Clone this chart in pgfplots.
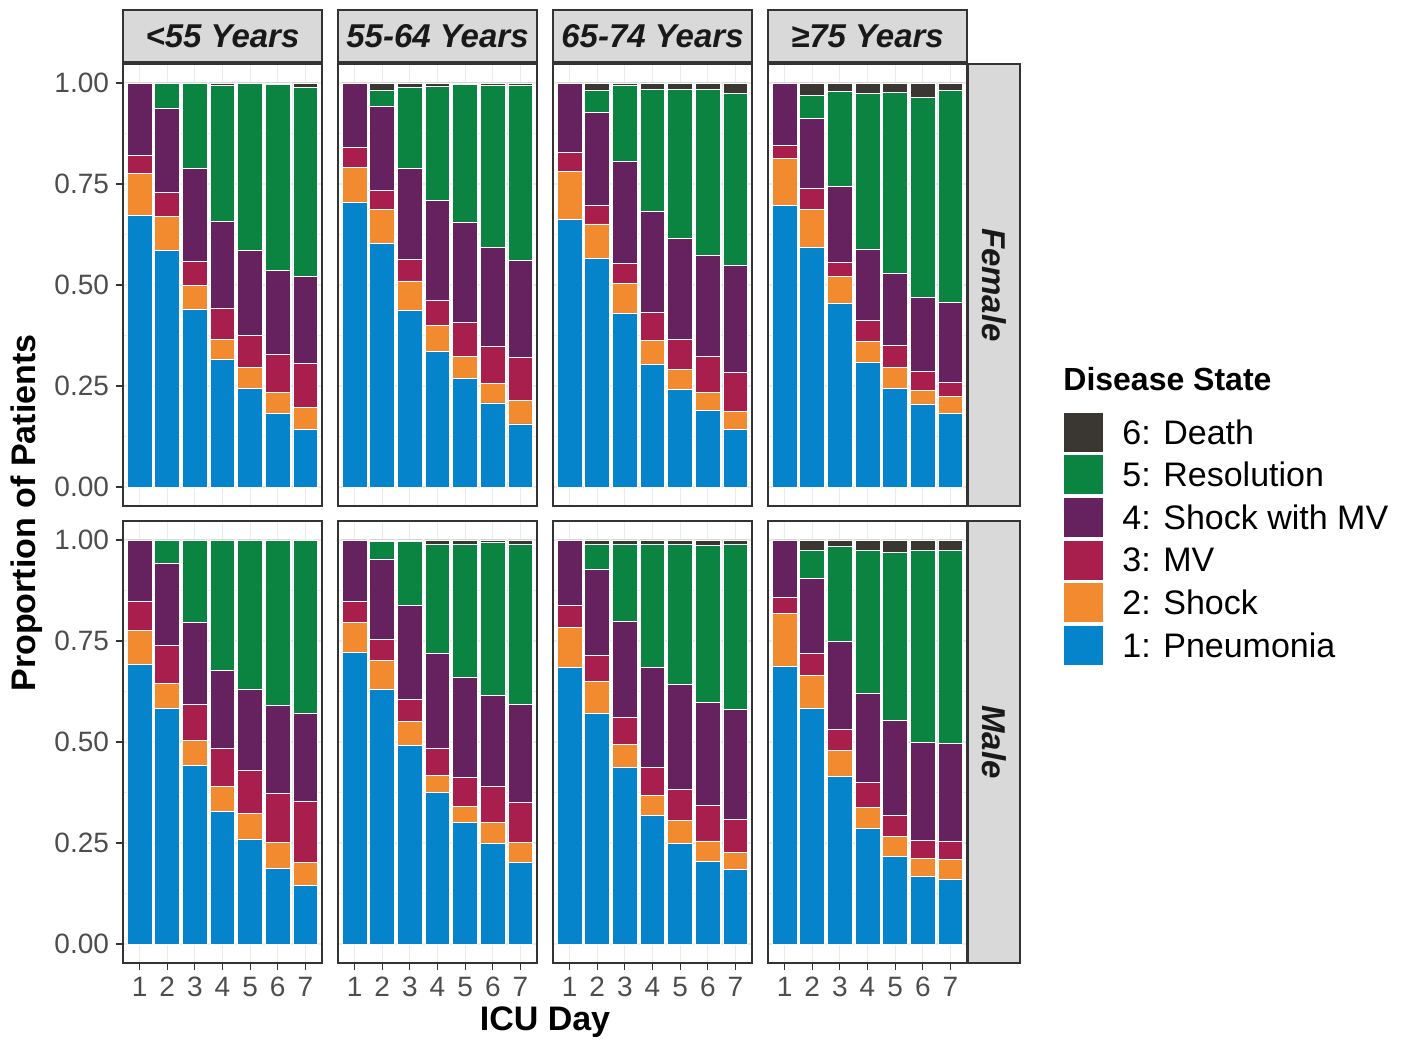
\documentclass[border=0pt]{standalone}
\usepackage{fontspec}
\setmainfont{Liberation Sans}
\usepackage{pgfplots}
\usepackage{pgfplotstable}
\pgfplotsset{compat=1.18}

\definecolor{cDe}{HTML}{3A3632}
\definecolor{cRe}{HTML}{0B8441}
\definecolor{cSM}{HTML}{65225F}
\definecolor{cMV}{HTML}{A81E4D}
\definecolor{cSh}{HTML}{F28A30}
\definecolor{cPn}{HTML}{0583CB}
\definecolor{gray20}{HTML}{333333}
\definecolor{gray30}{HTML}{4D4D4D}
\definecolor{gray85}{HTML}{D9D9D9}
\definecolor{gray92}{HTML}{EBEBEB}

% proportions per ICU day: pneumonia, shock, MV, shock with MV, resolution, death
\pgfplotstableread{
day P S M SM R D
1 0.672 0.104 0.044 0.180 0.000 0.000
2 0.586 0.084 0.060 0.207 0.063 0.000
3 0.440 0.058 0.061 0.229 0.212 0.000
4 0.316 0.050 0.076 0.216 0.335 0.007
5 0.244 0.052 0.078 0.211 0.413 0.002
6 0.182 0.053 0.093 0.209 0.459 0.004
7 0.143 0.054 0.110 0.215 0.466 0.012
}\fA
\pgfplotstableread{
day P S M SM R D
1 0.704 0.088 0.049 0.159 0.000 0.000
2 0.602 0.084 0.048 0.207 0.040 0.019
3 0.438 0.072 0.054 0.224 0.202 0.010
4 0.335 0.064 0.064 0.246 0.282 0.009
5 0.269 0.053 0.086 0.248 0.340 0.004
6 0.208 0.048 0.093 0.243 0.401 0.007
7 0.156 0.059 0.106 0.239 0.434 0.006
}\fB
\pgfplotstableread{
day P S M SM R D
1 0.663 0.118 0.046 0.173 0.000 0.000
2 0.566 0.085 0.047 0.228 0.055 0.019
3 0.429 0.074 0.051 0.251 0.188 0.007
4 0.304 0.058 0.069 0.250 0.302 0.017
5 0.242 0.048 0.074 0.251 0.368 0.017
6 0.190 0.044 0.088 0.251 0.410 0.017
7 0.142 0.044 0.097 0.266 0.426 0.025
}\fC
\pgfplotstableread{
day P S M SM R D
1 0.696 0.118 0.031 0.155 0.000 0.000
2 0.592 0.094 0.052 0.173 0.057 0.032
3 0.455 0.066 0.036 0.187 0.234 0.022
4 0.308 0.052 0.052 0.177 0.384 0.027
5 0.245 0.052 0.054 0.178 0.448 0.023
6 0.204 0.035 0.046 0.184 0.495 0.036
7 0.181 0.042 0.037 0.197 0.524 0.019
}\fD
\pgfplotstableread{
day P S M SM R D
1 0.692 0.083 0.074 0.151 0.000 0.000
2 0.583 0.061 0.094 0.203 0.059 0.000
3 0.442 0.061 0.089 0.205 0.203 0.000
4 0.327 0.062 0.096 0.192 0.323 0.000
5 0.259 0.064 0.106 0.201 0.370 0.000
6 0.188 0.063 0.122 0.218 0.409 0.000
7 0.145 0.057 0.152 0.216 0.428 0.002
}\mA
\pgfplotstableread{
day P S M SM R D
1 0.721 0.074 0.054 0.151 0.000 0.000
2 0.631 0.071 0.052 0.199 0.044 0.003
3 0.492 0.058 0.055 0.233 0.158 0.004
4 0.375 0.043 0.067 0.234 0.271 0.010
5 0.300 0.040 0.073 0.248 0.328 0.011
6 0.248 0.052 0.089 0.227 0.377 0.007
7 0.202 0.050 0.099 0.241 0.398 0.010
}\mB
\pgfplotstableread{
day P S M SM R D
1 0.684 0.099 0.054 0.163 0.000 0.000
2 0.571 0.078 0.066 0.211 0.062 0.012
3 0.436 0.057 0.069 0.236 0.192 0.010
4 0.317 0.051 0.070 0.247 0.305 0.010
5 0.249 0.056 0.077 0.261 0.345 0.012
6 0.204 0.051 0.087 0.257 0.387 0.014
7 0.184 0.043 0.082 0.272 0.409 0.010
}\mC
\pgfplotstableread{
day P S M SM R D
1 0.688 0.129 0.041 0.142 0.000 0.000
2 0.582 0.082 0.055 0.186 0.068 0.027
3 0.414 0.065 0.053 0.216 0.235 0.017
4 0.285 0.054 0.061 0.221 0.354 0.025
5 0.217 0.049 0.053 0.235 0.414 0.032
6 0.168 0.044 0.045 0.242 0.476 0.025
7 0.159 0.050 0.046 0.242 0.478 0.025
}\mD

\pgfplotsset{
  facet/.style={
    scale only axis, width=99.5pt, height=221pt, anchor=south west,
    xmin=0.4, xmax=7.6, ymin=-0.047, ymax=1.047,
    ybar stacked, bar width=0.9,
    xtick={1,...,7}, ytick={0,0.25,0.5,0.75,1},
    minor ytick={0.125,0.375,0.625,0.875},
    grid=both,
    major grid style={gray92, line width=0.55pt},
    minor grid style={gray92, line width=0.3pt},
    axis line style={gray20, line width=0.6pt},
    tick align=outside, xtick pos=bottom, ytick pos=left,
    major tick length=3.5pt, minor tick length=0pt,
    xtick style={draw=none}, ytick style={draw=none},
    xticklabels={}, yticklabels={},
    tick label style={font=\fontsize{14}{14}\selectfont, text=gray30},
    every axis plot/.append style={draw=white, line width=0.45pt},
  },
  showx/.style={xticklabels={1,2,3,4,5,6,7}, xtick style={draw=gray20, line width=0.6pt}},
  showy/.style={yticklabels={0.00,0.25,0.50,0.75,1.00}, ytick style={draw=gray20, line width=0.6pt}},
}

\newcommand{\facet}[4]{%
  \begin{axis}[facet, at={(#2*0.5pt,-#3*0.5pt)}, #4]
    \addplot[fill=cPn] table[x=day, y=P] {#1};
    \addplot[fill=cSh] table[x=day, y=S] {#1};
    \addplot[fill=cMV] table[x=day, y=M] {#1};
    \addplot[fill=cSM] table[x=day, y=SM] {#1};
    \addplot[fill=cRe] table[x=day, y=R] {#1};
    \addplot[fill=cDe] table[x=day, y=D] {#1};
  \end{axis}}

\begin{document}
\begin{tikzpicture}
\begin{scope}[x=0.5pt, y=-0.5pt]
  \path[use as bounding box] (0,0) rectangle (1402,1040);
\end{scope}

\facet{\fA}{123}{506}{showy}
\facet{\fB}{338}{506}{}
\facet{\fC}{553}{506}{}
\facet{\fD}{768}{506}{}
\facet{\mA}{123}{963}{showx, showy}
\facet{\mB}{338}{963}{showx}
\facet{\mC}{553}{963}{showx}
\facet{\mD}{768}{963}{showx}

\begin{scope}[x=0.5pt, y=-0.5pt]
  % column strips
  \foreach \xl/\lab in {123/{<55 Years}, 338/{55-64 Years}, 553/{65-74 Years}, 768/{≥75 Years}} {
    \draw[fill=gray85, draw=gray20, line width=0.6pt] (\xl,10) rectangle ++(199,52);
    \node[text=black!90, font=\fontsize{16.5}{16.5}\selectfont\bfseries\itshape] at (\xl+99.5,36.5) {\lab};
  }
  % row strips
  \draw[fill=gray85, draw=gray20, line width=0.6pt] (968,64) rectangle (1020,506);
  \node[rotate=-90, text=black!90, font=\fontsize{16.5}{16.5}\selectfont\bfseries\itshape] at (994,285) {Female};
  \draw[fill=gray85, draw=gray20, line width=0.6pt] (968,521) rectangle (1020,963);
  \node[rotate=-90, text=black!90, font=\fontsize{16.5}{16.5}\selectfont\bfseries\itshape] at (994,742) {Male};

  % axis titles
  \node[rotate=90, font=\fontsize{17}{17}\selectfont\bfseries] at (27,513) {Proportion of Patients};
  \node[font=\fontsize{17}{17}\selectfont\bfseries] at (545,1022) {ICU Day};

  % legend
  \node[anchor=west, inner sep=0pt, font=\fontsize{16}{16}\selectfont\bfseries] at (1063,379) {Disease State};
  \foreach \i/\c/\lab in {0/cDe/{6: Death}, 1/cRe/{5: Resolution}, 2/cSM/{4: Shock with MV},
                          3/cMV/{3: MV}, 4/cSh/{2: Shock}, 5/cPn/{1: Pneumonia}} {
    \draw[fill=\c, draw=white, line width=0.5pt] (1063,{412+42.7*\i}) rectangle ++(40,40);
    \node[anchor=west, inner sep=0pt, font=\fontsize{17}{17}\selectfont] at (1122,{432+42.7*\i}) {\lab};
  }
\end{scope}
\end{tikzpicture}
\end{document}
